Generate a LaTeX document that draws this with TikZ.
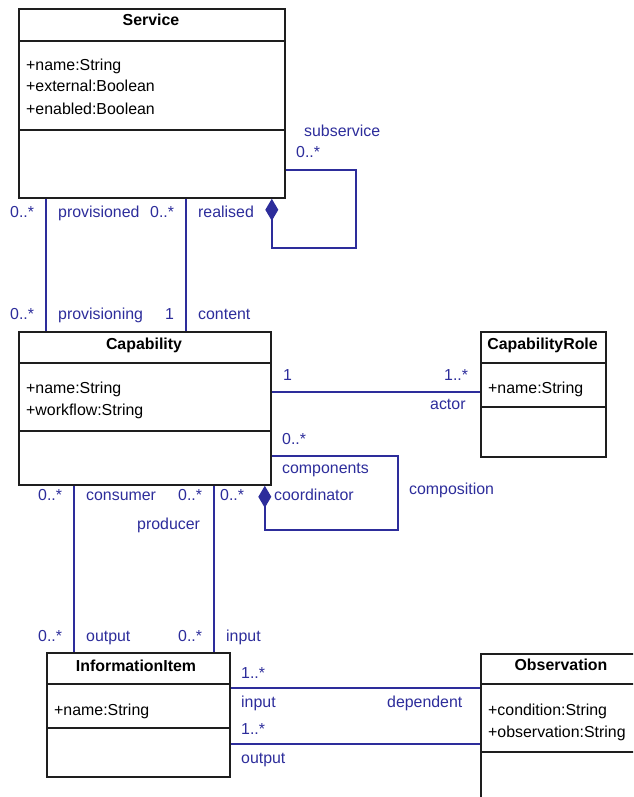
\documentclass[tikz,border=0pt]{standalone}
\usepackage{fontspec}
\setmainfont{Liberation Sans}
\usetikzlibrary{arrows.meta}
\definecolor{assocblue}{RGB}{45,45,155}
\definecolor{boxline}{RGB}{30,30,30}
\begin{document}
\begin{tikzpicture}[x=1pt,y=-1pt,
  font=\fontsize{15.9}{19}\selectfont,
  classbox/.style={draw=boxline, line width=1.8pt, anchor=north west, inner sep=0pt},
  sep/.style={draw=boxline, line width=1.8pt},
  title/.style={font=\fontsize{15.9}{19}\selectfont\bfseries, anchor=base, inner sep=0pt},
  attr/.style={anchor=base west, inner sep=0pt},
  assoc/.style={draw=assocblue, line width=1.6pt},
  comp/.style={assoc, -{Diamond[length=22pt,width=13pt]}},
  role/.style={text=assocblue, anchor=base west, inner sep=0pt},
]
\useasboundingbox (0,0) rectangle (633,797);
\clip (0,0) rectangle (633,797);

% ---------- classes ----------
% Service
\node[classbox, minimum width=266pt, minimum height=189pt] (service) at (18,8) {};
\draw[sep] ([yshift=-33pt]service.north west) -- ([yshift=-33pt]service.north east);
\draw[sep] ([yshift=-122pt]service.north west) -- ([yshift=-122pt]service.north east);
\node[title] (serviceT) at (151,26) {Service};
\node[attr] (serviceA1) at (26,71) {+name:String};
\node[attr] (serviceA2) at (26,92) {+external:Boolean};
\node[attr] (serviceA3) at (26,114) {+enabled:Boolean};

% Capability
\node[classbox, minimum width=252pt, minimum height=153pt] (capability) at (18,331) {};
\draw[sep] ([yshift=-32pt]capability.north west) -- ([yshift=-32pt]capability.north east);
\draw[sep] ([yshift=-100pt]capability.north west) -- ([yshift=-100pt]capability.north east);
\node[title] (capabilityT) at (144,349) {Capability};
\node[attr] (capabilityA1) at (26,393) {+name:String};
\node[attr] (capabilityA2) at (26,415) {+workflow:String};

% CapabilityRole
\node[classbox, minimum width=125pt, minimum height=125pt] (caprole) at (480,331) {};
\draw[sep] ([yshift=-32pt]caprole.north west) -- ([yshift=-32pt]caprole.north east);
\draw[sep] ([yshift=-76pt]caprole.north west) -- ([yshift=-76pt]caprole.north east);
\node[title] (caproleT) at (542.5,349) {CapabilityRole};
\node[attr] (caproleA1) at (488,393) {+name:String};

% InformationItem
\node[classbox, minimum width=183pt, minimum height=124pt] (infoitem) at (46,652) {};
\draw[sep] ([yshift=-32pt]infoitem.north west) -- ([yshift=-32pt]infoitem.north east);
\draw[sep] ([yshift=-76pt]infoitem.north west) -- ([yshift=-76pt]infoitem.north east);
\node[title] (infoitemT) at (136,671) {InformationItem};
\node[attr] (infoitemA1) at (54,715) {+name:String};

% Observation (runs past the right and bottom edges)
\node[classbox, minimum width=162pt, minimum height=180pt] (observation) at (480,653) {};
\draw[sep] ([yshift=-31pt]observation.north west) -- ([yshift=-31pt]observation.north east);
\draw[sep] ([yshift=-99pt]observation.north west) -- ([yshift=-99pt]observation.north east);
\node[title] (observationT) at (561,670) {Observation};
\node[attr] (observationA1) at (488,715) {+condition:String};
\node[attr] (observationA2) at (488,737) {+observation:String};

% ---------- associations ----------
% Service -- Capability (provisioned / provisioning)
\draw[assoc] ([xshift=28pt]service.south west) -- ([xshift=28pt]capability.north west);
\node[role] (r1) at (10,217) {0..*};
\node[role] (r2) at (58,217) {provisioned};
\node[role] (r3) at (10,319) {0..*};
\node[role] (r4) at (58,319) {provisioning};

% Service -- Capability (realised / content)
\draw[assoc] ([xshift=168pt]service.south west) -- ([xshift=168pt]capability.north west);
\node[role] (r5) at (150,217) {0..*};
\node[role] (r6) at (198,217) {realised};
\node[role] (r7) at (165,319) {1};
\node[role] (r8) at (198,319) {content};

% Service composition loop
\draw[comp] ([yshift=29pt]service.south east) -- ++(70,0) -- ++(0,78) -- ++(-84,0)
  -- ([xshift=-14pt]service.south east);
\node[role] (r9) at (304,136) {subservice};
\node[role] (r10) at (296,157) {0..*};

% Capability -- CapabilityRole
\draw[assoc] ([yshift=-61pt]capability.north east) -- ([yshift=-61pt]caprole.north west);
\node[role] (r11) at (283,380) {1};
\node[role] (r12) at (444,380) {1..*};
\node[role] (r13) at (430,409) {actor};

% Capability composition loop
\draw[comp] ([yshift=30pt]capability.south east) -- ++(126,0) -- ++(0,74) -- ++(-133,0)
  -- ([xshift=-7pt]capability.south east);
\node[role] (r14) at (282,444) {0..*};
\node[role] (r15) at (282,473) {components};
\node[role] (r16) at (274,500) {coordinator};
\node[role] (r17) at (409,494) {composition};

% Capability -- InformationItem (consumer / output)
\draw[assoc] ([xshift=56pt]capability.south west) -- ([xshift=28pt]infoitem.north west);
\node[role] (r18) at (38,500) {0..*};
\node[role] (r19) at (86,500) {consumer};
\node[role] (r20) at (38,641) {0..*};
\node[role] (r21) at (86,641) {output};

% Capability -- InformationItem (producer / input)
\draw[assoc] ([xshift=196pt]capability.south west) -- ([xshift=168pt]infoitem.north west);
\node[role] (r22) at (178,500) {0..*};
\node[role] (r23) at (220,500) {0..*};
\node[role] (r24) at (137,529) {producer};
\node[role] (r25) at (178,641) {0..*};
\node[role] (r26) at (226,641) {input};

% InformationItem -- Observation
\draw[assoc] ([yshift=-36pt]infoitem.north east) -- ([yshift=-36pt]infoitem.north east -| observation.west);
\node[role] (r27) at (241,678) {1..*};
\node[role] (r28) at (241,707) {input};
\node[role] (r29) at (387,707) {dependent};
\draw[assoc] ([yshift=-92pt]infoitem.north east) -- ([yshift=-92pt]infoitem.north east -| observation.west);
\node[role] (r30) at (241,734) {1..*};
\node[role] (r31) at (241,763) {output};
\end{tikzpicture}
\end{document}
